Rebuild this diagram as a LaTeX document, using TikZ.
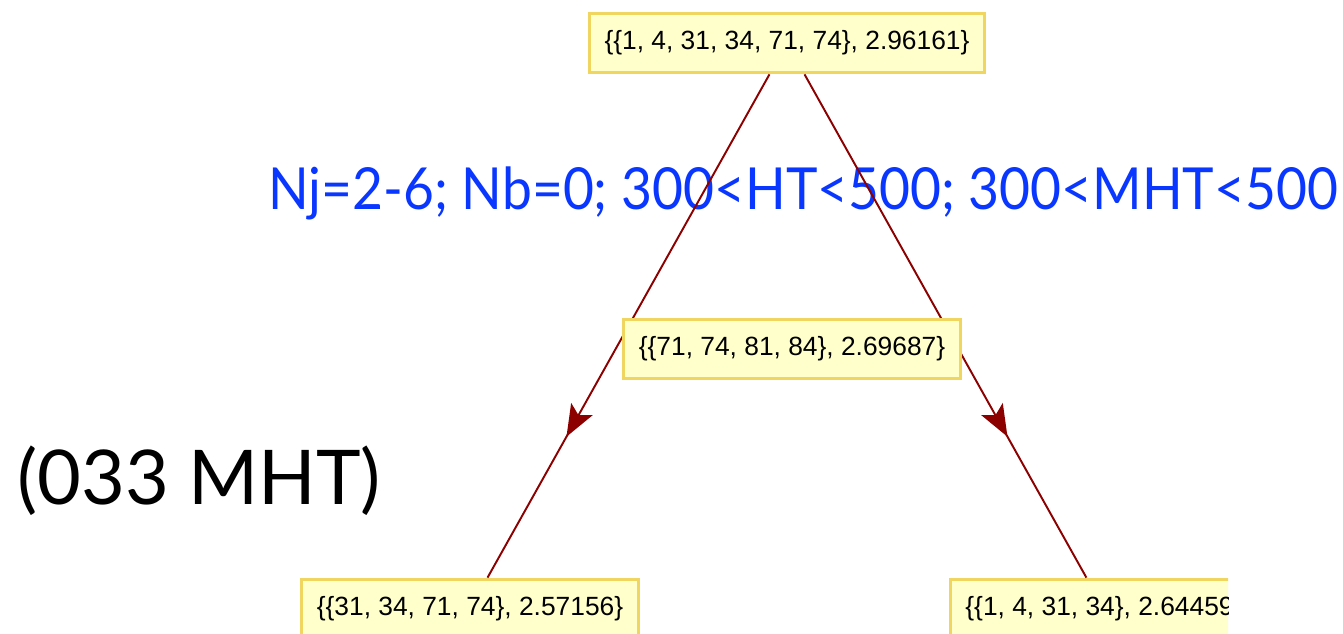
\documentclass[tikz,border=0pt]{standalone}
\usepackage{fontspec}
\setmainfont{Liberation Sans}
\newfontfamily\titlefont{Lato}
\usetikzlibrary{arrows.meta,decorations.markings}
\definecolor{boxfill}{RGB}{255,255,204}
\definecolor{boxline}{RGB}{240,214,96}
\definecolor{edgered}{RGB}{140,0,0}
\definecolor{cutblue}{RGB}{10,55,255}

\begin{document}
\begin{tikzpicture}[x=0.02cm,y=-0.02cm,
  treenode/.style={draw=boxline,fill=boxfill,line width=1.7pt,inner xsep=8.5pt,
    minimum height=34pt,font=\fontsize{15}{18}\selectfont},
  treeedge/.style={edgered,line width=1.1pt,postaction={decorate},
    decoration={markings,mark=at position 0.72 with {\arrow{Stealth[length=18pt,width=14pt,inset=4pt]}}}}]
  \useasboundingbox (0,0) rectangle (1343,634);
  \clip (0,0) rectangle (1343,634);
  % labels
  \node[anchor=base west,inner sep=0pt,text=cutblue,font=\titlefont\fontsize{33}{40}\selectfont] (cuts) at (268,210) {\scalebox{0.92}[1]{Nj=2-6; Nb=0; 300<HT<500; 300<MHT<500}};
  \node[anchor=base west,inner sep=0pt,font=\titlefont\fontsize{43}{50}\selectfont] (tag) at (17,505) {(033 MHT)};
  % tree
  \node[treenode] (top) at (787,43) {\{\{1, 4, 31, 34, 71, 74\}, 2.96161\}};
  \node[treenode] (botleft) at (470,609) {\{\{31, 34, 71, 74\}, 2.57156\}};
  \begin{scope}
    \clip (0,0) rectangle (1228,634);
    \node[treenode,anchor=west] (botright) at (949,609) {\{\{1, 4, 31, 34\}, 2.64459\}};
  \end{scope}
  \draw[treeedge] (top) -- (botleft);
  \draw[treeedge] (top) -- (botright);
  \node[treenode] (mid) at (792,349) {\{\{71, 74, 81, 84\}, 2.69687\}};
\end{tikzpicture}
\end{document}
